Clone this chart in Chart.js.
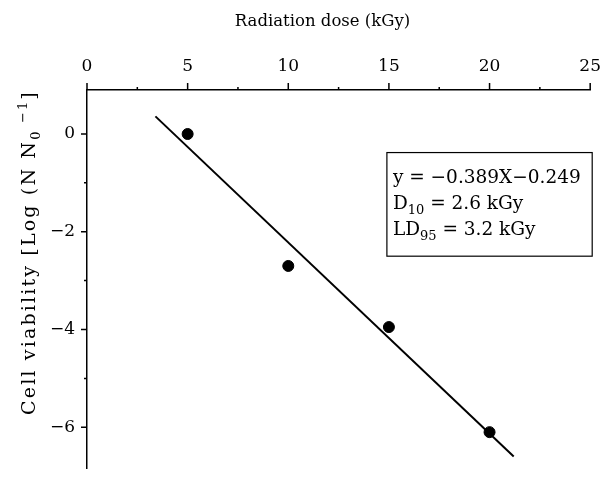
<!DOCTYPE html>
<html><head><meta charset="utf-8">
<script src="https://cdn.jsdelivr.net/npm/chart.js@4.4.0/dist/chart.umd.min.js"></script>
<style>html,body{margin:0;padding:0;background:#fff}#wrap{width:606px;height:485px}</style>
</head><body><div id="wrap"><canvas id="c" width="606" height="485"></canvas></div>
<script>
// ---- data ----
const doseKGy = [5, 10, 15, 20];
const logViability = [0.0, -2.7, -3.95, -6.1];
const fitDose = [3.4, 21.2];
const fitLog = [0.36, -6.6];
const xMajorTicks = [0, 5, 10, 15, 20, 25];
const xMinorTicks = [2.5, 7.5, 12.5, 17.5, 22.5];
const yMajorTicks = [0, -2, -4, -6];
const yMinorTicks = [-1, -3, -5];
const xTitle = 'Radiation dose (kGy)';
const yTitleParts = [{t:'Cell viability [Log (N N'}, {t:'0', sub:true}, {t:' \u22121', sup:true}, {t:']'}];
const eqLines = [
  [{t:'y = \u22120.389X\u22120.249'}],
  [{t:'D'}, {t:'10', sub:true}, {t:' = 2.6 kGy'}],
  [{t:'LD'}, {t:'95', sub:true}, {t:' = 3.2 kGy'}]
];
const boxX = [14.9, 25.1];
const boxY = [-0.38, -2.5];
const yTitleSpan = [0.9, -5.75];
const xTitleCenter = 11.7;

const FONT = '"DejaVu Serif", serif';
const fmt = v => (v < 0 ? '\u2212' + Math.abs(v) : String(v));

function richWidth(ctx, parts, size) {
  let w = 0;
  for (const p of parts) {
    ctx.font = ((p.sub || p.sup) ? Math.round(size * 0.68) : size) + 'px ' + FONT;
    w += ctx.measureText(p.t).width;
  }
  return w;
}
function drawRich(ctx, parts, x, y, size) {
  let cx = x;
  for (const p of parts) {
    const s = (p.sub || p.sup) ? Math.round(size * 0.68) : size;
    ctx.font = s + 'px ' + FONT;
    const dy = p.sub ? size * 0.28 : (p.sup ? -size * 0.42 : 0);
    ctx.fillText(p.t, cx, y + dy);
    cx += ctx.measureText(p.t).width;
  }
}

const decor = {
  id: 'decor',
  afterDraw(chart) {
    const ctx = chart.ctx;
    const xs = chart.scales.x, ys = chart.scales.y;
    const top = chart.chartArea.top, left = chart.chartArea.left;
    ctx.save();
    ctx.strokeStyle = '#000';
    ctx.fillStyle = '#000';
    ctx.lineWidth = 1.5;
    ctx.beginPath();
    xMajorTicks.forEach(v => { const px = xs.getPixelForValue(v); ctx.moveTo(px, top); ctx.lineTo(px, top - 7); });
    xMinorTicks.forEach(v => { const px = xs.getPixelForValue(v); ctx.moveTo(px, top); ctx.lineTo(px, top - 3); });
    yMajorTicks.forEach(v => { const py = ys.getPixelForValue(v); ctx.moveTo(left, py); ctx.lineTo(left - 6, py); });
    yMinorTicks.forEach(v => { const py = ys.getPixelForValue(v); ctx.moveTo(left, py); ctx.lineTo(left - 3, py); });
    ctx.stroke();

    // x title
    ctx.textBaseline = 'alphabetic';
    ctx.textAlign = 'center';
    ctx.font = '16.5px ' + FONT;
    ctx.fillText(xTitle, xs.getPixelForValue(xTitleCenter), 26);

    // y title (rotated)
    ctx.textAlign = 'left';
    const size = 19;
    const y0 = ys.getPixelForValue(yTitleSpan[0]), y1 = ys.getPixelForValue(yTitleSpan[1]);
    const target = y1 - y0;
    const w0 = richWidth(ctx, yTitleParts, size);
    const nChars = yTitleParts.reduce((a, p) => a + p.t.length, 0);
    const ls = Math.max(0, Math.min(2.5, (target - w0) / nChars));
    ctx.save();
    ctx.letterSpacing = ls.toFixed(2) + 'px';
    const w = richWidth(ctx, yTitleParts, size);
    ctx.translate(35, (y0 + y1) / 2);
    ctx.rotate(-Math.PI / 2);
    drawRich(ctx, yTitleParts, -w / 2, 0, size);
    ctx.restore();

    // equation box
    const bx0 = xs.getPixelForValue(boxX[0]), bx1 = xs.getPixelForValue(boxX[1]);
    const by0 = ys.getPixelForValue(boxY[0]), by1 = ys.getPixelForValue(boxY[1]);
    ctx.lineWidth = 1.2;
    ctx.strokeRect(bx0, by0, bx1 - bx0, by1 - by0);
    eqLines.forEach((ln, i) => drawRich(ctx, ln, bx0 + 6, by0 + 30 + i * 26, 18.5));
    ctx.restore();
  }
};

new Chart(document.getElementById('c'), {
  type: 'scatter',
  data: {
    datasets: [
      {
        label: 'fit',
        type: 'line',
        data: fitDose.map((x, i) => ({x, y: fitLog[i]})),
        borderColor: '#000', borderWidth: 2, pointRadius: 0, fill: false
      },
      {
        label: 'data',
        data: doseKGy.map((x, i) => ({x, y: logViability[i]})),
        backgroundColor: '#000', borderColor: '#000', pointRadius: 5.5, pointHoverRadius: 5.5
      }
    ]
  },
  options: {
    responsive: false, animation: false, devicePixelRatio: 1,
    layout: { padding: { left: 0, top: 0, right: 14, bottom: 0 } },
    plugins: { legend: { display: false }, tooltip: { enabled: false } },
    scales: {
      x: {
        type: 'linear', position: 'top', min: 0, max: 25,
        afterBuildTicks: s => { s.ticks = xMajorTicks.map(v => ({value: v})); },
        afterFit: s => { s.height = 90; },
        ticks: { color: '#000', font: { family: FONT, size: 17 }, padding: 5, maxRotation: 0, callback: v => fmt(v) },
        grid: { display: true, drawOnChartArea: false, drawTicks: true, tickLength: 8, tickColor: 'rgba(0,0,0,0)' },
        border: { display: true, color: '#000', width: 1.5 }
      },
      y: {
        type: 'linear', position: 'left', min: -6.85, max: 0.9,
        afterBuildTicks: s => { s.ticks = yMajorTicks.map(v => ({value: v})); },
        afterFit: s => { s.width = 87; },
        ticks: { color: '#000', font: { family: FONT, size: 17 }, padding: 6, callback: v => fmt(v) },
        grid: { display: true, drawOnChartArea: false, drawTicks: true, tickLength: 6, tickColor: 'rgba(0,0,0,0)' },
        border: { display: true, color: '#000', width: 1.5 }
      }
    }
  },
  plugins: [decor]
});
</script>
</body></html>
